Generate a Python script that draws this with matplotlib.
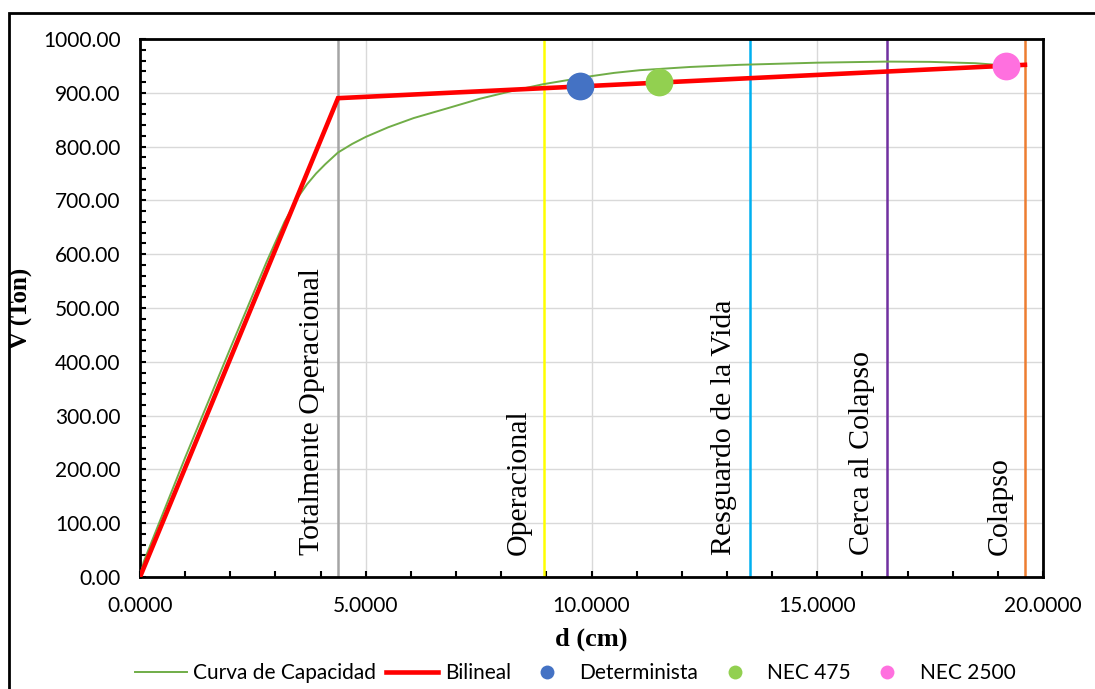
import matplotlib
matplotlib.use("Agg")
import matplotlib.pyplot as plt
from matplotlib.lines import Line2D
from matplotlib.patches import Rectangle
from matplotlib.ticker import MultipleLocator, FormatStrFormatter

# Pushover capacity curve (d in cm, V in Ton)
cap_d = [0.0, 0.08, 1.0, 2.0, 2.8, 3.2, 3.5, 3.7, 3.9, 4.1, 4.385, 4.7, 5.0,
         5.5, 6.06, 6.8, 7.53, 8.27, 8.93, 9.5, 10.0, 10.5, 11.07, 12.18,
         13.28, 15.0, 16.55, 17.5, 18.5, 19.3]
cap_V = [0.0, 28.0, 222.0, 425.0, 585.0, 660.0, 706.0, 730.0, 750.0, 767.0,
         789.0, 805.0, 818.0, 836.0, 853.0, 871.0, 889.0, 904.0, 916.0, 924.0,
         931.0, 937.0, 942.0, 948.0, 952.0, 956.0, 958.0, 957.5, 955.0, 950.0]

# Idealised bilinear curve
bil_d = [0.0, 4.385, 19.6]
bil_V = [0.0, 890.0, 952.0]

# Performance points
pt_names = ["Determinista", "NEC 475", "NEC 2500"]
pt_d = [9.745, 11.49, 19.19]
pt_V = [912.5, 919.5, 950.5]
pt_colors = ["#4472C4", "#92D050", "#FF70DF"]

# Performance level limits
lvl_names = ["Totalmente Operacional", "Operacional", "Resguardo de la Vida",
             "Cerca al Colapso", "Colapso"]
lvl_d = [4.385, 8.95, 13.51, 16.55, 19.6]
lvl_colors = ["#A5A5A5", "#FFFF00", "#00B0F0", "#7030A0", "#ED7D31"]

W, H = 1095, 689
fig = plt.figure(figsize=(W / 100, H / 100), dpi=100)
ax = fig.add_axes([140 / W, 1 - 577 / H, (1043 - 140) / W, (577 - 39) / H])

sans = "Lato"
serif = "Liberation Serif"

ax.set_xlim(0, 20)
ax.set_ylim(0, 1000)

ax.xaxis.set_major_locator(MultipleLocator(5))
ax.xaxis.set_minor_locator(MultipleLocator(1))
ax.yaxis.set_major_locator(MultipleLocator(100))
ax.yaxis.set_minor_locator(MultipleLocator(20))
ax.xaxis.set_major_formatter(FormatStrFormatter("%.4f"))
ax.yaxis.set_major_formatter(FormatStrFormatter("%.2f"))

ax.grid(True, which="major", color="#D9D9D9", linewidth=1.0, zorder=0)
ax.set_axisbelow(True)

for s in ax.spines.values():
    s.set_linewidth(2.0)
    s.set_color("black")

ax.tick_params(which="both", direction="in", width=1.5, colors="black",
               top=False, right=False)
ax.tick_params(which="major", length=4, labelsize=15, pad=14)
ax.tick_params(which="minor", length=4)
for lab in ax.get_xticklabels() + ax.get_yticklabels():
    lab.set_fontfamily(sans)

# Performance level lines with labels
for name, d, c in zip(lvl_names, lvl_d, lvl_colors):
    ax.axvline(d, color=c, linewidth=1.8, zorder=2)
    ax.annotate(name, xy=(d, 40), xycoords="data", xytext=(-9, 0),
                textcoords="offset points", rotation=90, ha="right",
                va="bottom", fontsize=21.5, family=serif, zorder=3)

ax.plot(cap_d, cap_V, color="#70AD47", linewidth=1.4, zorder=4,
        solid_joinstyle="round")
ax.plot(bil_d, bil_V, color="#FF0000", linewidth=3.3, zorder=5,
        solid_joinstyle="miter")

for d, v, c in zip(pt_d, pt_V, pt_colors):
    ax.plot([d], [v], "o", color=c, markersize=20, markeredgewidth=0, zorder=6)

ax.set_xlabel("d (cm)", fontsize=19, fontweight="bold", family=serif, labelpad=8)
ax.set_ylabel("V (Ton)", fontsize=18, fontweight="bold", family=serif, labelpad=7)

# Legend
handles = [
    Line2D([], [], color="#70AD47", linewidth=1.4),
    Line2D([], [], color="#FF0000", linewidth=3.3),
]
for c in pt_colors:
    handles.append(Line2D([], [], linestyle="none", marker="o", color=c,
                          markersize=10, markeredgewidth=0))
labels = ["Curva de Capacidad", "Bilineal"] + pt_names
fig.legend(handles, labels, loc="center", bbox_to_anchor=(575 / W, 1 - 673 / H),
           ncol=5, frameon=False, prop={"family": sans, "size": 15},
           handlelength=2.5, handletextpad=0.3, columnspacing=0.5,
           borderaxespad=0, borderpad=0)

# Outer chart border
fig.add_artist(Rectangle((9 / W, -0.05), 1.2, 1 - 13 / H + 0.05,
                         transform=fig.transFigure, fill=False,
                         edgecolor="black", linewidth=2.0))

fig.savefig("out.png", dpi=100)
